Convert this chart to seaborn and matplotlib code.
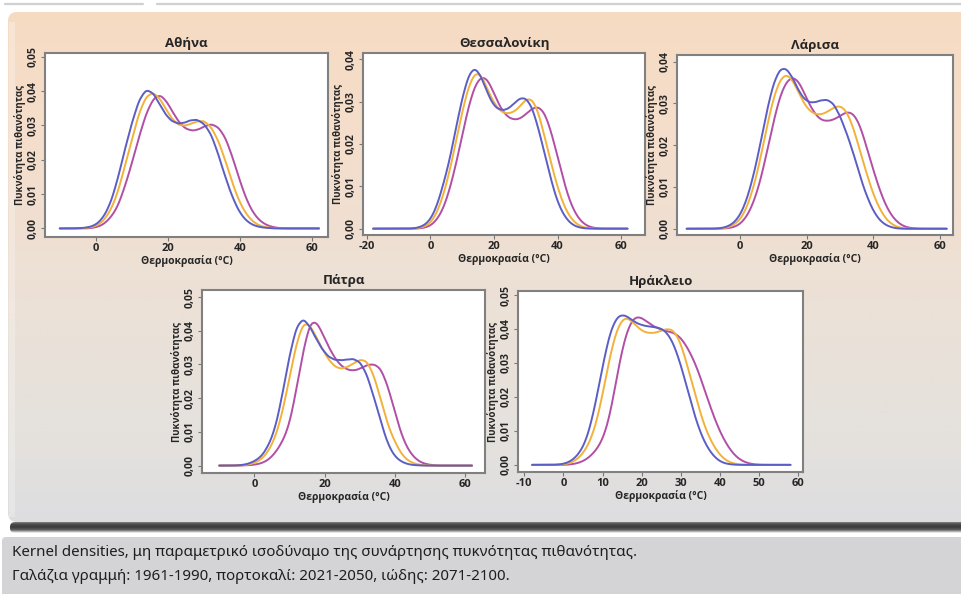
import numpy as np
import pandas as pd
import matplotlib
matplotlib.use("Agg")
import matplotlib.pyplot as plt
import seaborn as sns
from matplotlib.patches import FancyBboxPatch, Rectangle

# ---------------- data ----------------
PERIODS = ["1961-1990", "2021-2050", "2071-2100"]
COLORS = ["#5b5ec4", "#f2b23a", "#b14fa6"]

ATH_T = [-10, -8, -6, -4, -2, 0, 2, 4, 6, 8, 10, 12, 14, 16, 18, 20, 22, 24, 26, 28,
         30, 32, 34, 36, 38, 40, 42, 44, 46, 48, 50, 52, 54, 56, 58, 60, 62]
ATH_BLUE = [0, 0, 0, 0.0001, 0.0003, 0.001, 0.003, 0.007, 0.014, 0.023, 0.031, 0.038, 0.0412,
            0.040, 0.036, 0.0325, 0.031, 0.0308, 0.0318, 0.0322, 0.031, 0.028, 0.022, 0.015,
            0.009, 0.0045, 0.002, 0.0008, 0.0003, 0.0001, 0, 0, 0, 0, 0, 0, 0]
ATH_ORANGE = [0, 0, 0, 0, 0.0002, 0.0006, 0.002, 0.005, 0.010, 0.018, 0.026, 0.034, 0.039,
              0.0402, 0.038, 0.034, 0.031, 0.030, 0.0305, 0.0315, 0.0318, 0.030, 0.026, 0.020,
              0.013, 0.0075, 0.0038, 0.0016, 0.0006, 0.0002, 0, 0, 0, 0, 0, 0, 0]
ATH_PURPLE = [0, 0, 0, 0, 0, 0.0003, 0.001, 0.003, 0.006, 0.012, 0.019, 0.027, 0.034, 0.0385,
              0.0397, 0.037, 0.033, 0.030, 0.0288, 0.0288, 0.030, 0.0309, 0.030, 0.027, 0.021,
              0.014, 0.008, 0.004, 0.0018, 0.0007, 0.0002, 0, 0, 0, 0, 0, 0]

THE_T = [-18, -16, -14, -12, -10, -8, -6, -4, -2, 0, 2, 4, 6, 8, 10, 12, 14, 16, 18, 20, 22,
         24, 26, 28, 30, 32, 34, 36, 38, 40, 42, 44, 46, 48, 50, 52, 54, 56, 58, 60, 62]
THE_BLUE = [0, 0, 0, 0, 0, 0, 0, 0.0002, 0.0007, 0.002, 0.005, 0.010, 0.0155, 0.023, 0.030,
            0.0355, 0.0373, 0.035, 0.031, 0.028, 0.0272, 0.0272, 0.0285, 0.030, 0.0302, 0.028,
            0.023, 0.017, 0.011, 0.006, 0.003, 0.0012, 0.0004, 0.0001, 0, 0, 0, 0, 0, 0, 0]
THE_ORANGE = [0, 0, 0, 0, 0, 0, 0, 0.0001, 0.0004, 0.0012, 0.0035, 0.0075, 0.013, 0.020, 0.027,
              0.033, 0.0362, 0.0358, 0.032, 0.029, 0.027, 0.0265, 0.0268, 0.028, 0.030, 0.0302,
              0.027, 0.021, 0.015, 0.0095, 0.0052, 0.0025, 0.001, 0.0003, 0.0001, 0, 0, 0, 0, 0, 0]
THE_PURPLE = [0, 0, 0, 0, 0, 0, 0, 0, 0.0002, 0.0006, 0.002, 0.0045, 0.009, 0.015, 0.022, 0.029,
              0.034, 0.0362, 0.0355, 0.032, 0.0285, 0.0265, 0.0257, 0.0258, 0.027, 0.0285, 0.029,
              0.0275, 0.023, 0.017, 0.011, 0.006, 0.003, 0.0012, 0.0004, 0.0001, 0, 0, 0, 0, 0]

LAR_T = [-16, -14, -12, -10, -8, -6, -4, -2, 0, 2, 4, 6, 8, 10, 12, 14, 16, 18, 20, 22, 24,
         26, 28, 30, 32, 34, 36, 38, 40, 42, 44, 46, 48, 50, 52, 54, 56, 58, 60, 62]
LAR_BLUE = [0, 0, 0, 0, 0, 0.0001, 0.0004, 0.0012, 0.003, 0.0065, 0.012, 0.019, 0.027, 0.0335,
            0.037, 0.037, 0.0345, 0.031, 0.0292, 0.0289, 0.0295, 0.0298, 0.029, 0.026, 0.022,
            0.0175, 0.012, 0.0075, 0.004, 0.0018, 0.0007, 0.0002, 0, 0, 0, 0, 0, 0, 0, 0]
LAR_ORANGE = [0, 0, 0, 0, 0, 0, 0.0002, 0.0008, 0.002, 0.0048, 0.0095, 0.016, 0.024, 0.031,
              0.0355, 0.0369, 0.035, 0.0315, 0.0285, 0.0272, 0.0269, 0.0275, 0.0287, 0.0293,
              0.028, 0.024, 0.0185, 0.013, 0.008, 0.0045, 0.002, 0.0008, 0.0002, 0, 0, 0, 0, 0, 0, 0]
LAR_PURPLE = [0, 0, 0, 0, 0, 0, 0.0001, 0.0003, 0.001, 0.0028, 0.006, 0.011, 0.018, 0.0255,
              0.032, 0.0355, 0.0366, 0.035, 0.031, 0.028, 0.026, 0.0257, 0.026, 0.027, 0.0281,
              0.0278, 0.025, 0.0195, 0.014, 0.009, 0.005, 0.0025, 0.001, 0.0003, 0.0001, 0, 0, 0, 0, 0]

PAT_T = [-10, -8, -6, -4, -2, 0, 2, 4, 6, 8, 10, 12, 14, 16, 18, 20, 22, 24, 26, 28,
         30, 32, 34, 36, 38, 40, 42, 44, 46, 48, 50, 52, 54, 56, 58, 60, 62]
PAT_BLUE = [0, 0, 0, 0.0001, 0.0004, 0.0012, 0.0025, 0.0055, 0.0105, 0.020, 0.031, 0.0395,
            0.0418, 0.039, 0.035, 0.0318, 0.030, 0.0297, 0.0298, 0.0302, 0.0295, 0.026, 0.0195,
            0.0125, 0.006, 0.0025, 0.001, 0.0003, 0.0001, 0, 0, 0, 0, 0, 0, 0, 0]
PAT_ORANGE = [0, 0, 0, 0, 0.0002, 0.0007, 0.0017, 0.004, 0.008, 0.015, 0.025, 0.035, 0.0413,
              0.040, 0.036, 0.032, 0.029, 0.0275, 0.0278, 0.029, 0.0303, 0.0302, 0.026, 0.019,
              0.0115, 0.0068, 0.003, 0.0012, 0.0004, 0.0001, 0, 0, 0, 0, 0, 0, 0]
PAT_PURPLE = [0, 0, 0, 0, 0.0001, 0.0002, 0.0006, 0.0015, 0.0035, 0.0065, 0.011, 0.021, 0.032,
              0.0402, 0.0395, 0.035, 0.031, 0.028, 0.0265, 0.026, 0.0265, 0.0277, 0.028, 0.027,
              0.022, 0.015, 0.008, 0.004, 0.0017, 0.0006, 0.0002, 0, 0, 0, 0, 0, 0]

HER_T = [-8, -6, -4, -2, 0, 2, 4, 6, 8, 10, 12, 14, 16, 18, 20, 22, 24, 26, 28, 30,
         32, 34, 36, 38, 40, 42, 44, 46, 48, 50, 52, 54, 56, 58]
HER_BLUE = [0, 0, 0, 0, 0.0002, 0.001, 0.003, 0.007, 0.016, 0.028, 0.0385, 0.0428, 0.0425,
            0.0405, 0.0395, 0.0392, 0.039, 0.0383, 0.035, 0.0285, 0.020, 0.012, 0.0063, 0.0028,
            0.0008, 0.0002, 0, 0, 0, 0, 0, 0, 0, 0]
HER_ORANGE = [0, 0, 0, 0, 0.0001, 0.0005, 0.0018, 0.0045, 0.0095, 0.019, 0.031, 0.039, 0.0414,
              0.039, 0.0368, 0.0362, 0.0365, 0.0375, 0.0378, 0.034, 0.026, 0.018, 0.0105, 0.0058,
              0.0025, 0.0008, 0.0002, 0, 0, 0, 0, 0, 0, 0]
HER_PURPLE = [0, 0, 0, 0, 0, 0.0001, 0.0005, 0.0015, 0.0035, 0.0065, 0.0135, 0.027, 0.037,
              0.0415, 0.041, 0.039, 0.0378, 0.0372, 0.0368, 0.0355, 0.032, 0.0275, 0.021, 0.0145,
              0.009, 0.005, 0.0022, 0.0008, 0.0002, 0, 0, 0, 0, 0]

CITY_TITLES = ["Αθήνα", "Θεσσαλονίκη", "Λάρισα", "Πάτρα", "Ηράκλειο"]
XTICKS = [[0, 20, 40, 60], [-20, 0, 20, 40, 60], [0, 20, 40, 60], [0, 20, 40, 60],
          [-10, 0, 10, 20, 30, 40, 50, 60]]
YTICKS = [[0, 0.01, 0.02, 0.03, 0.04, 0.05], [0, 0.01, 0.02, 0.03, 0.04],
          [0, 0.01, 0.02, 0.03, 0.04], [0, 0.01, 0.02, 0.03, 0.04, 0.05],
          [0, 0.01, 0.02, 0.03, 0.04, 0.05]]
XLABEL = "Θερμοκρασία (°C)"
YLABEL = "Πυκνότητα πιθανότητας"
CAPTION1 = "Kernel densities, μη παραμετρικό ισοδύναμο της συνάρτησης πυκνότητας πιθανότητας."
CAPTION2 = "Γαλάζια γραμμή: 1961-1990, πορτοκαλί: 2021-2050, ιώδης: 2071-2100."

# ---------------- style ----------------
sns.set_theme(style="ticks")
plt.rcParams["font.family"] = ["Open Sans", "DejaVu Sans"]
PANEL_FONT = ["Open Sans", "DejaVu Sans"]
CAPTION_FONT = ["Noto Sans", "DejaVu Sans"]

W, H = 961, 594
fig = plt.figure(figsize=(W / 100, H / 100), dpi=100)
fig.patch.set_facecolor("white")

# background decoration
bg = fig.add_axes([0, 0, 1, 1], zorder=-10)
bg.axis("off")
stops = [12, 150, 300, 450, 522]
cols = np.array([[247, 219, 195], [244, 222, 204], [236, 225, 215], [228, 225, 222],
                 [221, 221, 224]]) / 255.0
yy = np.arange(12, 523)
img = np.stack([np.interp(yy, stops, cols[:, k]) for k in range(3)], axis=-1)[:, None, :]
im = bg.imshow(img, extent=(8, 990, 522, 12), aspect="auto", interpolation="bilinear")
clip = FancyBboxPatch((8, 12), 980, 510, boxstyle="round,pad=0,rounding_size=9",
                      fc="none", ec="none", transform=bg.transData)
bg.add_patch(clip)
im.set_clip_path(clip)
bg.add_patch(Rectangle((9, 22), 6, 495, fc="white", alpha=0.25, ec="none"))
# shadow band under the box
sh_y = np.arange(522, 534)
sh_c = np.interp(sh_y, [522, 524, 527, 530, 533], [120, 75, 60, 95, 235]) / 255.0
sh_img = np.repeat(sh_c[:, None, None], 3, axis=2)
im2 = bg.imshow(sh_img, extent=(10, 990, 533, 522), aspect="auto", interpolation="bilinear")
clip2 = FancyBboxPatch((10, 522), 980, 11, boxstyle="round,pad=0,rounding_size=5",
                       fc="none", ec="none", transform=bg.transData)
bg.add_patch(clip2)
im2.set_clip_path(clip2)
# caption box
bg.add_patch(FancyBboxPatch((2, 537), 990, 70, boxstyle="round,pad=0,rounding_size=4",
                            fc="#d4d4d6", ec="none"))
bg.plot([5, 143], [3.5, 3.5], color="#d0d0d0", lw=1.6, solid_capstyle="round")
bg.plot([157, 961], [3.5, 3.5], color="#d0d0d0", lw=1.6, solid_capstyle="round")
bg.set_xlim(0, W)
bg.set_ylim(H, 0)

bg.text(12, 553, CAPTION1, fontsize=10.9, color="#1e1e1e", va="center", ha="left",
        family=CAPTION_FONT)
bg.text(12, 577, CAPTION2, fontsize=10.9, color="#1e1e1e", va="center", ha="left",
        family=CAPTION_FONT)

# ---------------- panels ----------------
boxes = [(45, 328, 53, 237), (363, 645, 53, 235), (677, 953, 55, 235),
         (202, 485, 290, 473), (518, 803, 291, 472)]
xlims = [(-14.1, 64.5), (-21.2, 67.5), (-18.9, 63.9), (-14.9, 65.7), (-11.6, 61.2)]
ylims = [(-0.0025, 0.0511), (-0.0015, 0.0415), (-0.0015, 0.0416), (-0.0022, 0.0521),
         (-0.0021, 0.0512)]
# kernel bandwidth factors (~1.3 degC for every panel)
BW = [0.13, 0.13, 0.13, 0.135, 0.17]
series = [
    (ATH_T, ATH_BLUE, ATH_ORANGE, ATH_PURPLE),
    (THE_T, THE_BLUE, THE_ORANGE, THE_PURPLE),
    (LAR_T, LAR_BLUE, LAR_ORANGE, LAR_PURPLE),
    (PAT_T, PAT_BLUE, PAT_ORANGE, PAT_PURPLE),
    (HER_T, HER_BLUE, HER_ORANGE, HER_PURPLE),
]

for i, (l, r, t, b) in enumerate(boxes):
    ax = fig.add_axes([l / W, (H - b) / H, (r - l) / W, (b - t) / H])
    ax.set_facecolor("white")
    temps, blue, orange, purple = series[i]
    frames = []
    for name, vals in zip(PERIODS, (blue, orange, purple)):
        frames.append(pd.DataFrame({"T": temps, "density": vals, "period": name}))
    df = pd.concat(frames, ignore_index=True)
    # smooth kernel density of the read-off density profile, one curve per period
    sns.kdeplot(data=df, x="T", weights="density", hue="period", hue_order=PERIODS,
                palette=COLORS, common_norm=False, bw_method=BW[i], cut=0, gridsize=500,
                linewidth=1.4, legend=False, ax=ax)
    ax.set_xlim(*xlims[i])
    ax.set_ylim(*ylims[i])
    ax.set_xticks(XTICKS[i])
    ax.set_xticklabels([str(v) for v in XTICKS[i]], fontsize=8, fontweight="bold",
                       family=PANEL_FONT)
    ax.set_yticks(YTICKS[i])
    ax.set_yticklabels([f"{v:.2f}".replace(".", ",") for v in YTICKS[i]], fontsize=7.5,
                       fontweight="bold", rotation=90, va="center", family=PANEL_FONT)
    ax.tick_params(axis="both", direction="out", length=3, width=0.8, color="#777777",
                   pad=1.5)
    for sp in ax.spines.values():
        sp.set_visible(True)
        sp.set_color("#808080")
        sp.set_linewidth(1.5)
    ax.set_xlabel(XLABEL, fontsize=7.5, fontweight="bold", labelpad=0.5, family=PANEL_FONT)
    ax.set_ylabel(YLABEL, fontsize=7, fontweight="bold", labelpad=1, family=PANEL_FONT)
    ax.set_title(CITY_TITLES[i], fontsize=9.5, fontweight="bold", pad=4, family=PANEL_FONT)

fig.savefig("out.png", dpi=100, facecolor=fig.get_facecolor())
